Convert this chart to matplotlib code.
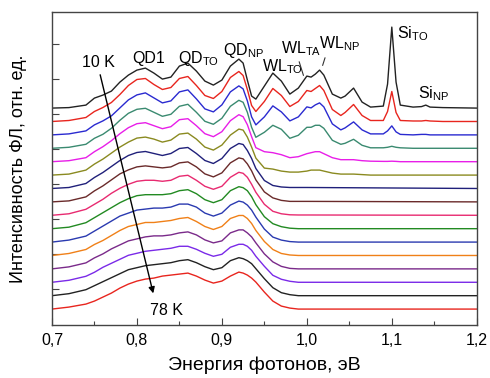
import matplotlib
matplotlib.use('Agg')
import matplotlib.pyplot as plt
import numpy as np

plt.rcParams['font.family'] = ['Liberation Sans', 'DejaVu Sans']
plt.rcParams['mathtext.fontset'] = 'custom'
plt.rcParams['mathtext.rm'] = 'Liberation Sans'

# photon energy grids, eV
energy_hi = [0.70, 0.72, 0.74, 0.75, 0.76, 0.77, 0.78, 0.79, 0.80, 0.81, 0.82, 0.83, 0.84,
             0.85, 0.86, 0.87, 0.88, 0.89, 0.90, 0.91, 0.92, 0.925, 0.93, 0.935, 0.94, 0.95,
             0.96, 0.97, 0.98, 0.99, 1.00, 1.005, 1.01, 1.015, 1.02, 1.03, 1.04, 1.045, 1.055,
             1.065, 1.075, 1.09, 1.095, 1.10, 1.105, 1.11, 1.125, 1.135, 1.14, 1.145, 1.16, 1.20]
energy_lo = energy_hi[:31] + [1.20]

# PL intensity above each curve's own baseline, arb. units (10 K at top -> 78 K at bottom)
pl_c0 = [0, 0.5, 3, 10, 13, 17, 26, 33, 38, 40, 35, 29, 31, 42, 45, 37, 27, 23, 28, 42, 49, 45, 28, 12, 9, 22, 35, 27, 14, 20, 32,
         31, 34, 38, 33, 14, 10, 12, 20, 6, 1, 2, 24, 81, 26, 3, 1, 1.5, 3, 1, 0.5, 0]
pl_c1 = [0, 1, 4, 10, 14, 19, 27, 36, 42, 43, 37, 32, 34, 43, 45, 36, 26, 23, 30, 44, 50, 46, 32, 16, 10, 20, 33, 26, 15, 20, 31,
         30, 33, 36, 31, 12, 6, 9, 17, 6, 1, 1, 10, 30, 9, 1, 0.5, 0.5, 1, 0.5, 0, 0]
pl_c2 = [0, 1, 4, 10, 14, 19, 27, 35, 40, 42, 37, 32, 34, 43, 45, 36, 26, 23, 30, 43, 49, 46, 34, 18, 10, 18, 29, 23, 14, 18, 28,
         27, 30, 32, 28, 11, 5, 7, 13, 5, 1, 1, 4, 9, 3, 0.5, 0, 0.5, 0.5, 0, 0, 0]
pl_c3 = [0, 1, 4, 10, 14, 20, 28, 35, 39, 40, 36, 32, 34, 42, 44, 36, 27, 24, 30, 42, 48, 46, 36, 21, 11, 16, 23, 19, 10, 13, 21,
         21, 23, 23, 20, 8, 4, 5, 9, 3, 0.5, 0.5, 1, 2, 1, 0.5, 0, 0, 0, 0, 0, 0]
pl_c4 = [0, 1, 4, 10, 15, 21, 28, 34, 38, 39, 36, 33, 35, 42, 43, 36, 28, 25, 30, 41, 47, 45, 37, 25, 14, 10, 9, 7, 4, 5, 8,
         9, 10, 10, 8, 4, 2, 2, 2, 1, 0.5, 0.3, 0.3, 0.5, 0.3, 0, 0, 0, 0, 0, 0, 0]
pl_c5 = [0, 1, 5, 11, 16, 22, 28, 33, 37, 38, 36, 33, 35, 41, 42, 36, 28, 25, 30, 40, 46, 45, 38, 28, 17, 7, 6, 4, 3, 3, 4,
         5, 5, 5, 4, 2, 1, 1, 1, 0.5, 0, 0, 0, 0, 0, 0, 0, 0, 0, 0, 0, 0]
pl_c6 = [0, 1, 5, 11, 16, 22, 28, 33, 36, 37, 35, 33, 35, 40, 41, 35, 28, 25, 30, 40, 45, 44, 38, 30, 20, 8, 3, 1.5, 1, 1, 1, 0]
pl_c7 = [0, 1, 5, 11, 16, 22, 28, 32, 35, 36, 35, 34, 35, 39, 40, 35, 28, 25, 29, 39, 44, 43, 38, 31, 22, 10, 4, 1.5, 0.5, 0.5, 0.5, 0]
pl_c8 = [0, 1.5, 6, 11, 16, 22, 27, 31, 34, 35, 35, 34, 35, 39, 40, 35, 29, 26, 29, 38, 43, 42, 38, 31, 23, 11, 4, 1.5, 0.5, 0.3, 0.3, 0]
pl_c9 = [0, 1.5, 6, 11, 16, 21, 26, 30, 33, 34, 34, 34, 35, 38, 39, 35, 29, 26, 29, 38, 42, 41, 38, 32, 24, 12, 5, 2, 0.5, 0, 0, 0]
pl_c10 = [0, 2, 6, 11, 16, 21, 26, 29, 32, 33, 34, 34, 35, 38, 38, 35, 29, 26, 29, 37, 41, 40, 37, 32, 25, 13, 5, 2, 0.5, 0, 0, 0]
pl_c11 = [0, 2, 6, 11, 15, 20, 25, 29, 31, 33, 33, 34, 35, 37, 38, 34, 29, 26, 29, 37, 40, 40, 37, 32, 25, 14, 6, 2, 0.5, 0, 0, 0]
pl_c12 = [0, 2, 6, 11, 15, 20, 24, 28, 30, 32, 33, 33, 34, 36, 37, 34, 29, 26, 28, 36, 39, 39, 36, 32, 26, 15, 7, 2.5, 0.5, 0, 0, 0]
pl_c13 = [0, 2, 6, 10, 15, 19, 23, 27, 29, 31, 32, 33, 34, 36, 36, 33, 29, 26, 28, 35, 38, 38, 36, 32, 26, 16, 7, 3, 1, 0, 0, 0]
pl_c14 = [0, 2, 6, 10, 14, 18, 22, 26, 28, 30, 31, 32, 33, 35, 36, 33, 29, 26, 28, 35, 38, 37, 35, 32, 27, 17, 8, 3, 1, 0, 0, 0]
pl_c15 = [0, 2, 5, 8, 12, 16, 21, 25, 28, 30, 31, 33, 34, 35, 36, 33, 29, 26, 28, 33, 37, 36, 34, 31, 27, 17, 8, 3, 1, 0, 0, 0]

spectra = [pl_c0, pl_c1, pl_c2, pl_c3, pl_c4, pl_c5, pl_c6, pl_c7,
           pl_c8, pl_c9, pl_c10, pl_c11, pl_c12, pl_c13, pl_c14, pl_c15]
colors = ['#222222', '#e8251e', '#2a2ad0', '#3a8a70', '#e81ee8', '#8a8a20', '#20207a', '#6a2a2a',
          '#e82a70', '#228a22', '#2a3ab0', '#f08018', '#7a2a8a', '#7a2ae8', '#222222', '#e8251e']
x_ticks = [0.7, 0.8, 0.9, 1.0, 1.1, 1.2]
x_labels = ['0,7', '0,8', '0,9', '1,0', '1,1', '1,2']

step = 13.4
fig = plt.figure(figsize=(4.9, 3.78), dpi=100)
ax = fig.add_axes([0.106, 0.140, 0.867, 0.828])

n = len(spectra)
for i, (y, c) in enumerate(zip(spectra, colors)):
    e = energy_hi if len(y) == len(energy_hi) else energy_lo
    ax.plot(e, np.array(y) + (n - 1 - i) * step, color=c, lw=1.0)

ax.set_xlim(0.7, 1.2)
ax.set_ylim(-16, 297)
ax.set_xticks(x_ticks)
ax.set_xticklabels(x_labels, fontsize=11.5)
ax.set_xticks(np.arange(0.75, 1.2, 0.1), minor=True)
ax.set_yticks(np.arange(20, 266, 35))
ax.set_yticklabels([])
ax.tick_params(direction='in', which='major', length=5, width=0.8, pad=6, color='#444444')
ax.tick_params(direction='in', which='minor', length=3, width=0.8, color='#444444')
for s in ax.spines.values():
    s.set_color('#444444')
    s.set_linewidth(1.0)

ax.set_xlabel('Энергия фотонов, эВ', fontsize=14, labelpad=6)
ax.set_ylabel('Интенсивность ФЛ, отн. ед.', fontsize=13, labelpad=12)

fs = 11.5
ax.text(0.735, 242, '10 K', fontsize=fs)
ax.text(0.815, -6, '78 K', fontsize=fs)
ax.text(0.794, 246, 'QD1', fontsize=fs)
ax.text(0.848, 246, r'QD$_{\mathrm{TO}}$', fontsize=fs)
ax.text(0.901, 254, r'QD$_{\mathrm{NP}}$', fontsize=fs)
ax.text(0.947, 238, r'WL$_{\mathrm{TO}}$', fontsize=fs)
ax.text(0.970, 256, r'WL$_{\mathrm{TA}}$', fontsize=fs)
ax.text(1.014, 261, r'WL$_{\mathrm{NP}}$', fontsize=fs)
ax.text(1.106, 271, r'Si$_{\mathrm{TO}}$', fontsize=fs)
ax.text(1.131, 211, r'Si$_{\mathrm{NP}}$', fontsize=fs)

ax.annotate('', xy=(0.82, 13), xytext=(0.756, 237),
            arrowprops=dict(arrowstyle='-|>', color='k', lw=1.0, mutation_scale=9))
ax.annotate('', xy=(0.997, 231), xytext=(0.990, 250),
            arrowprops=dict(arrowstyle='-', color='#333333', lw=0.8))
ax.annotate('', xy=(1.0176, 241), xytext=(1.0224, 254),
            arrowprops=dict(arrowstyle='-', color='#333333', lw=0.8))

fig.savefig('out.png', dpi=100)
